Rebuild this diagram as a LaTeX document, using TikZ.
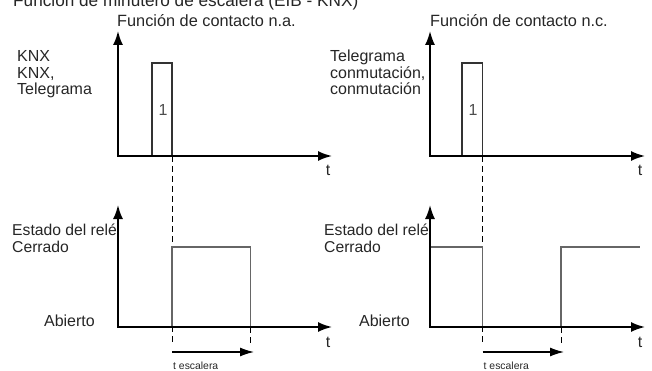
\documentclass[tikz,border=0pt]{standalone}
\usepackage{fontspec}
\setmainfont{Liberation Sans}
\usetikzlibrary{arrows.meta}
\begin{document}
\begin{tikzpicture}[x=1pt,y=-1pt,
  axis/.style={line width=1.8pt,-{Latex[length=14pt,width=10pt]}},
  sig/.style={line width=1.1pt,draw=black!60},
  pulse/.style={line width=1.1pt,draw=black!80},
  guide/.style={line width=0.9pt,dash pattern=on 6pt off 4pt},
  span/.style={line width=1.4pt,-{Latex[length=14pt,width=9pt]}},
  lbl/.style={font=\fontsize{16}{17}\selectfont,text=black!85,inner sep=0pt},
  small/.style={font=\fontsize{10.4}{12}\selectfont,text=black!85,inner sep=0pt}]
\useasboundingbox (0,0) rectangle (652,371);
% title (clipped at top)
\node[lbl,font=\fontsize{17.2}{19}\selectfont,anchor=base west] (title) at (13,6.2) {Función de minutero de escalera (EIB - KNX)};
% subtitles
\node[lbl,font=\fontsize{16.3}{18}\selectfont,anchor=base west] (sub1) at (117,26.5) {Función de contacto n.a.};
\node[lbl,font=\fontsize{16.3}{18}\selectfont,anchor=base west] (sub2) at (430,26.5) {Función de contacto n.c.};
% left labels top
\node[lbl,anchor=base west] (k1) at (17,61.7) {KNX};
\node[lbl,anchor=base west] (k2) at (17,78.4) {KNX,};
\node[lbl,anchor=base west] (k3) at (17,95) {Telegrama};
\node[lbl,anchor=base west] (c1) at (330,61.7) {Telegrama};
\node[lbl,anchor=base west] (c2) at (330,78.4) {conmutación,};
\node[lbl,anchor=base west] (c3) at (330,95) {conmutación};
% bottom labels
\node[lbl,font=\fontsize{15.7}{17}\selectfont,anchor=base west] (e1) at (12,235) {Estado del relé};
\node[lbl,font=\fontsize{15.7}{17}\selectfont,anchor=base west] (e2) at (12,252) {Cerrado};
\node[lbl,anchor=base east] (e3) at (95,326) {Abierto};
\node[lbl,font=\fontsize{15.7}{17}\selectfont,anchor=base west] (f1) at (324,235) {Estado del relé};
\node[lbl,font=\fontsize{15.7}{17}\selectfont,anchor=base west] (f2) at (324,252) {Cerrado};
\node[lbl,anchor=base east] (f3) at (410,326) {Abierto};
% coordinates
\coordinate (O1) at (118,156); \coordinate (Y1) at (118,31); \coordinate (X1) at (332,156);
\coordinate (O2) at (430,156); \coordinate (Y2) at (430,31); \coordinate (X2) at (645,156);
\coordinate (O3) at (118,327); \coordinate (Y3) at (118,205); \coordinate (X3) at (332,327);
\coordinate (O4) at (430,327); \coordinate (Y4) at (430,205); \coordinate (X4) at (645,327);
% dashed guides
\coordinate (d1a) at (172,156); \coordinate (d1b) at (172,345);
\coordinate (d2a) at (250.5,247); \coordinate (d2b) at (250.5,345);
\coordinate (d3a) at (482.5,156); \coordinate (d3b) at (482.5,345);
\coordinate (d4a) at (561,247); \coordinate (d4b) at (561,345);
\draw[guide] (d1a) -- (d1b);
\draw[guide] (d2a) -- (d2b);
\draw[guide] (d3a) -- (d3b);
\draw[guide] (d4a) -- (d4b);
% pulses
\draw[pulse] (152,156) -- (152,63) -- (172,63) -- (172,156);
\node[lbl,text=black!70,anchor=base] (one1) at (163,115.7) {1};
\draw[pulse] (462,156) -- (462,63) -- (482.5,63) -- (482.5,156);
\node[lbl,text=black!70,anchor=base] (one2) at (473,115.7) {1};
% relay states
\draw[sig] (172,327) -- (172,247) -- (250.5,247) -- (250.5,327);
\draw[sig] (430,247) -- (482.5,247) -- (482.5,327);
\draw[sig] (561,327) -- (561,247) -- (640,247);
% axes
\draw[axis] (O1) -- (Y1); \draw[axis] ([xshift=-0.9pt]O1) -- (X1);
\draw[axis] (O2) -- (Y2); \draw[axis] ([xshift=-0.9pt]O2) -- (X2);
\draw[axis] (O3) -- (Y3); \draw[axis] ([xshift=-0.9pt]O3) -- (X3);
\draw[axis] (O4) -- (Y4); \draw[axis] ([xshift=-0.9pt]O4) -- (X4);
\node[lbl,anchor=base] (t1) at (328,176) {t};
\node[lbl,anchor=base] (t2) at (640,176) {t};
\node[lbl,anchor=base] (t3) at (328,347) {t};
\node[lbl,anchor=base] (t4) at (640,347) {t};
% staircase time spans
\coordinate (s1a) at (172,352); \coordinate (s1b) at (254,352);
\coordinate (s2a) at (482.5,352); \coordinate (s2b) at (564,352);
\draw[span] (s1a) -- (s1b);
\draw[span] (s2a) -- (s2b);
\node[small,anchor=base west] (te1) at (173,369) {t escalera};
\node[small,anchor=base west] (te2) at (483.5,369) {t escalera};
\end{tikzpicture}
\end{document}
